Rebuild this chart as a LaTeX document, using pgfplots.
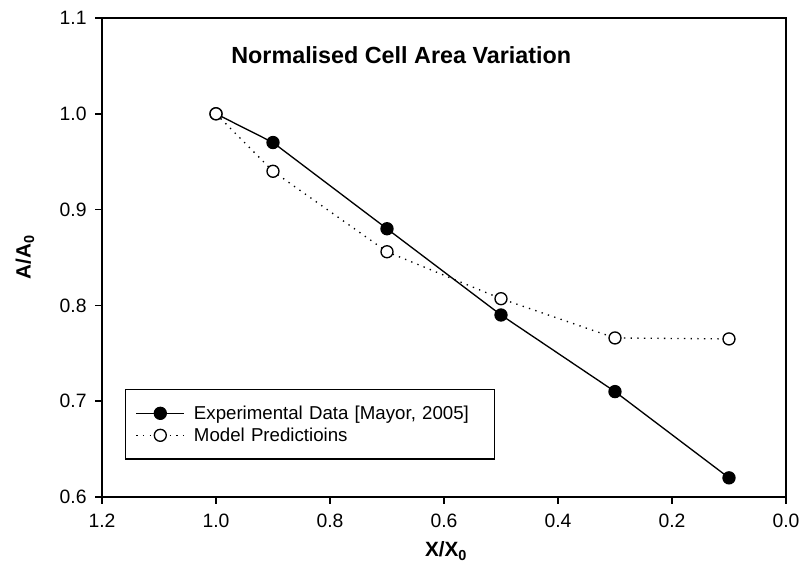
\documentclass[border=0pt]{standalone}
\usepackage{pgfplots}
\pgfplotsset{compat=1.18}
\usepackage{fontspec}
\setmainfont{Liberation Sans}

% experimental data and model
\pgfplotstableread{
x y
1.0 1.00
0.9 0.97
0.7 0.88
0.5 0.79
0.3 0.71
0.1 0.62
}\expdata
\pgfplotstableread{
x y
1.0 1.000
0.9 0.940
0.7 0.856
0.5 0.807
0.3 0.766
0.1 0.765
}\modeldata

\begin{document}
\begin{tikzpicture}
  \path[use as bounding box] (-76.5pt,-63pt) rectangle (523.5pt,372.75pt);
  \begin{axis}[
      scale only axis,
      width=513pt, height=359.25pt,
      at={(0pt,0pt)}, anchor=south west,
      clip=false,
      x dir=reverse,
      xmin=0, xmax=1.2, ymin=0.6, ymax=1.1,
      xtick={0,0.2,...,1.2},
      ytick={0.6,0.7,...,1.1},
      xtick pos=bottom, ytick pos=left,
      tick align=outside,
      major tick length=5pt,
      axis line style={line width=1.2pt},
      tick style={black, line width=1.2pt},
      tick label style={font=\fontsize{14.5}{17}\selectfont},
      /pgf/number format/assume math mode=true,
      /pgf/number format/fixed,
      /pgf/number format/fixed zerofill,
      /pgf/number format/precision=1,
      xticklabel style={yshift=-4pt},
      yticklabel style={xshift=-3pt},
      legend style={
        at={(axis description cs:0.0336,0.2255)}, anchor=north west,
        draw=black, line width=1pt,
        inner xsep=7.5pt, inner ysep=9.5pt,
        row sep=0pt,
        font=\fontsize{14}{17}\selectfont,
        nodes={inner ysep=0pt, inner xsep=6.75pt, text width=211pt, align=left,
               text height=12.85pt, text depth=3.65pt},
      },
      legend image code/.code={
        \draw[#1,mark repeat=2,mark phase=2] plot coordinates {(0pt,0pt) (18pt,0pt) (36pt,0pt)};
      },
    ]
    \addplot[black, line width=1pt, mark=*, mark size=4.5pt,
             mark options={solid, fill=black}]
      table[x=x, y=y] {\expdata};
    \addlegendentry{Experimental Data [Mayor, 2005]}
    \addplot[black, line width=1pt, dash pattern=on 1pt off 4pt, mark=*, mark size=4.5pt,
             mark options={solid, fill=white}]
      table[x=x, y=y] {\modeldata};
    \addlegendentry{Model Predictioins}

    % outside tick marks
    \pgfplotsinvokeforeach{0,0.2,0.4,0.6,0.8,1.0,1.2}{
      \draw[black, line width=1.2pt] (axis cs:#1,0.6) -- ++(0pt,-5pt);
    }
    \pgfplotsinvokeforeach{0.6,0.7,0.8,0.9,1.0,1.1}{
      \draw[black, line width=1.2pt] (axis cs:1.2,#1) -- ++(-5pt,0pt);
    }

    \node[font=\fontsize{17.5}{20}\selectfont\bfseries] at (axis cs:0.675,1.061) {Normalised Cell Area Variation};
    \node[font=\fontsize{15.5}{18}\selectfont\bfseries, rotate=90] at (axis description cs:-0.1126,0.501) {A/A\textsubscript{0}};
    \node[font=\fontsize{15.5}{18}\selectfont\bfseries] at (axis description cs:0.503,-0.113) {X/X\textsubscript{0}};
  \end{axis}
\end{tikzpicture}
\end{document}
